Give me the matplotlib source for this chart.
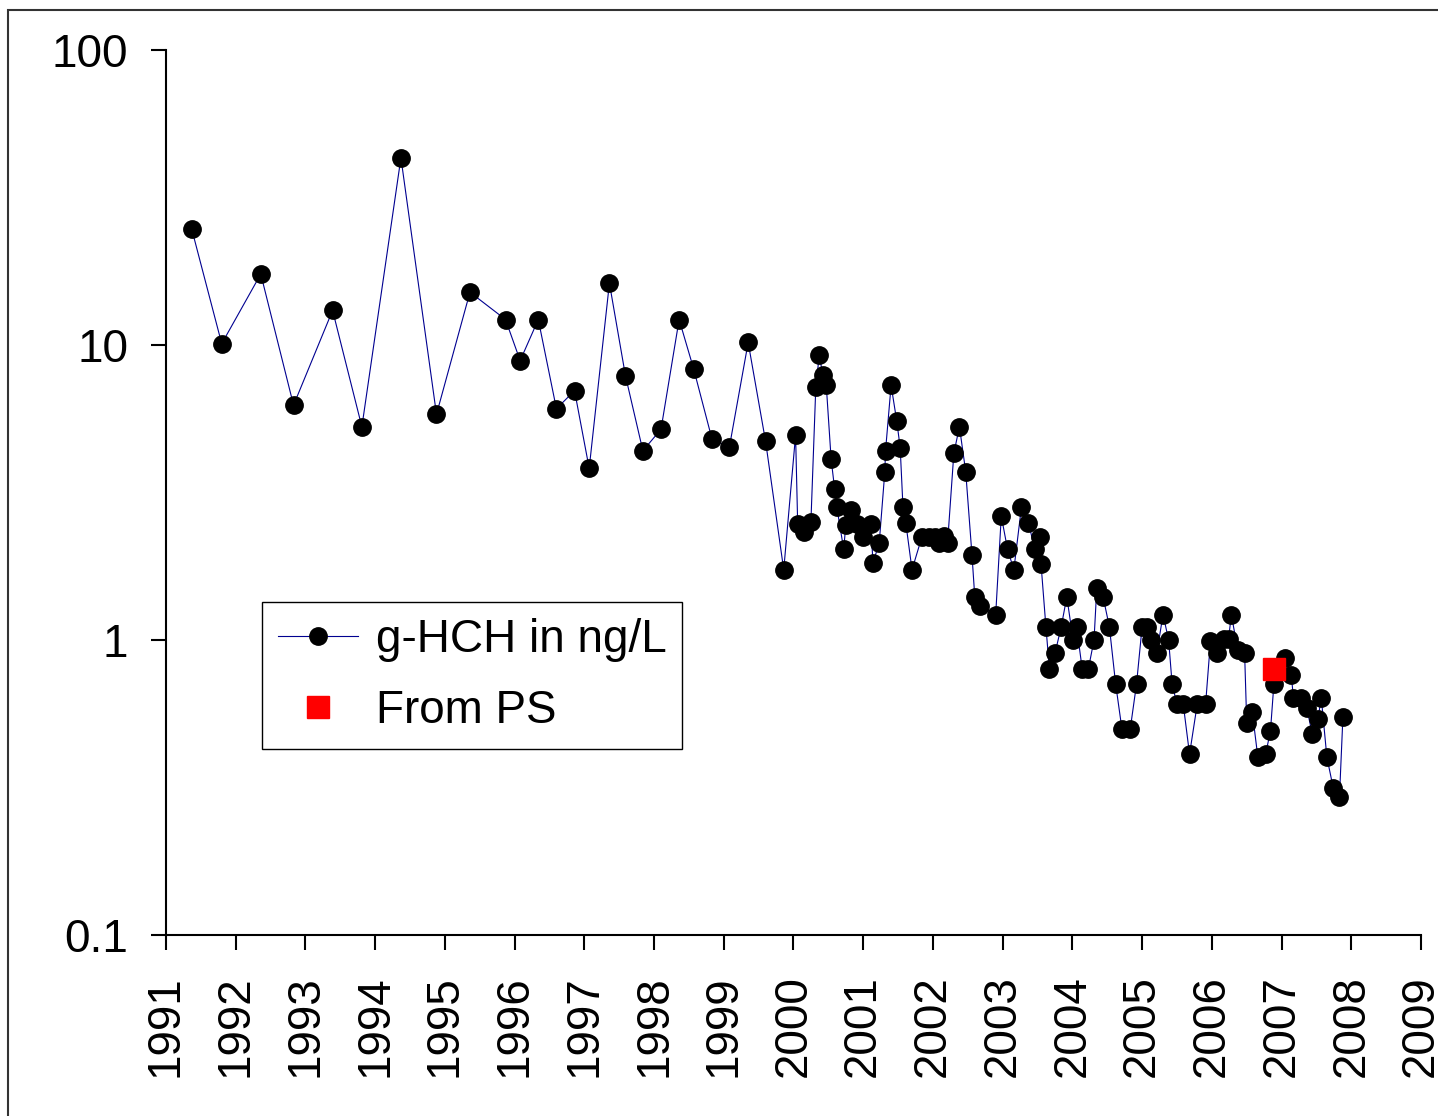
import matplotlib
matplotlib.use("Agg")
import matplotlib.pyplot as plt
from matplotlib.patches import Rectangle
from matplotlib.ticker import FixedLocator, NullLocator

plt.rcParams['font.family'] = ['Liberation Sans', 'DejaVu Sans']

# sampling dates (decimal years) and g-HCH concentrations (ng/L)
years = [
    1991.37, 1991.80, 1992.36, 1992.83, 1993.39, 1993.81, 1994.37, 1994.88,
    1995.36, 1995.87, 1996.08, 1996.34, 1996.60, 1996.86, 1997.07, 1997.36,
    1997.59, 1997.84, 1998.10, 1998.36, 1998.57, 1998.83, 1999.08, 1999.35,
    1999.60, 1999.86, 2000.03, 2000.06, 2000.15, 2000.25, 2000.32, 2000.37,
    2000.42, 2000.47, 2000.54, 2000.59, 2000.62, 2000.72, 2000.75, 2000.83,
    2000.91, 2001.00, 2001.11, 2001.14, 2001.23, 2001.31, 2001.32, 2001.40,
    2001.48, 2001.53, 2001.57, 2001.61, 2001.70, 2001.84, 2001.94, 2002.03,
    2002.09, 2002.16, 2002.21, 2002.30, 2002.38, 2002.47, 2002.56, 2002.60,
    2002.68, 2002.90, 2002.98, 2003.07, 2003.16, 2003.27, 2003.37, 2003.46,
    2003.54, 2003.55, 2003.62, 2003.67, 2003.75, 2003.84, 2003.92, 2004.01,
    2004.06, 2004.14, 2004.23, 2004.31, 2004.35, 2004.44, 2004.53, 2004.62,
    2004.71, 2004.83, 2004.92, 2005.00, 2005.07, 2005.13, 2005.21, 2005.30,
    2005.38, 2005.43, 2005.50, 2005.59, 2005.68, 2005.79, 2005.91, 2005.98,
    2006.07, 2006.17, 2006.24, 2006.28, 2006.37, 2006.47, 2006.50, 2006.58,
    2006.66, 2006.77, 2006.84, 2006.89, 2007.05, 2007.14, 2007.17, 2007.28,
    2007.36, 2007.44, 2007.52, 2007.57, 2007.65, 2007.74, 2007.83, 2007.88,
]
hch = [
    24.7, 10.1, 17.4, 6.25, 13.1, 5.28, 43.1, 5.82,
    15.1, 12.2, 8.85, 12.2, 6.08, 7.0, 3.82, 16.2,
    7.87, 4.38, 5.18, 12.2, 8.27, 4.81, 4.5, 10.2,
    4.71, 1.73, 4.95, 2.48, 2.33, 2.52, 7.19, 9.25,
    7.9, 7.3, 4.10, 3.25, 2.83, 2.03, 2.45, 2.76,
    2.48, 2.23, 2.47, 1.82, 2.14, 3.72, 4.38, 7.3,
    5.54, 4.49, 2.83, 2.5, 1.73, 2.23, 2.23, 2.23,
    2.14, 2.25, 2.14, 4.3, 5.28, 3.72, 1.94, 1.40,
    1.30, 1.22, 2.63, 2.03, 1.73, 2.83, 2.5, 2.03,
    2.24, 1.81, 1.11, 0.80, 0.90, 1.11, 1.40, 1.0,
    1.11, 0.80, 0.80, 1.0, 1.50, 1.40, 1.11, 0.71,
    0.50, 0.50, 0.71, 1.11, 1.11, 1.0, 0.90, 1.22,
    1.0, 0.71, 0.605, 0.605, 0.41, 0.605, 0.605, 0.99,
    0.90, 1.01, 1.01, 1.22, 0.925, 0.90, 0.525, 0.57,
    0.40, 0.41, 0.49, 0.71, 0.87, 0.76, 0.634, 0.634,
    0.59, 0.48, 0.54, 0.634, 0.40, 0.316, 0.293, 0.55,
]

# passive sampler estimate
ps_year = [2006.89]
ps_value = [0.80]

year_ticks = list(range(1991, 2010))
y_ticks = [0.1, 1, 10, 100]
y_labels = ["0.1", "1", "10", "100"]

fig = plt.figure(figsize=(14.38, 11.16), dpi=100)
ax = fig.add_axes([0.1154, 0.1622, 0.8728, 0.793])

ax.plot(years, hch, color="#000090", linewidth=0.8, marker="o",
        markersize=12.5, markerfacecolor="black", markeredgecolor="black",
        label="g-HCH in ng/L", zorder=3)
ax.plot(ps_year, ps_value, linestyle="none", marker="s", markersize=16.5,
        color="#ff0000", label="From PS", zorder=4)

ax.set_yscale("log")
ax.set_ylim(0.1, 100)
ax.set_xlim(1991, 2009)
ax.yaxis.set_major_locator(FixedLocator(y_ticks))
ax.yaxis.set_minor_locator(NullLocator())
ax.set_yticklabels(y_labels)
ax.set_xticks(year_ticks)
ax.set_xticklabels([str(y) for y in year_ticks], rotation=90)

for side in ["top", "right"]:
    ax.spines[side].set_visible(False)
for side in ["left", "bottom"]:
    ax.spines[side].set_linewidth(1.5)
ax.tick_params(axis="both", which="major", direction="out", length=11,
               width=1.5, labelsize=33)
ax.tick_params(axis="y", pad=16)
ax.tick_params(axis="x", pad=18)

leg = fig.legend(loc="upper left", bbox_to_anchor=(0.1822, 0.4606),
                 borderaxespad=0, fontsize=33, frameon=True, fancybox=False,
                 edgecolor="black", handlelength=1.75, handletextpad=0.38,
                 borderpad=0.35, labelspacing=0.58, framealpha=1)
leg.get_frame().set_linewidth(1.0)

# outer chart-area border (only top/left visible in the source image)
fig.patches.append(Rectangle((8 / 1438, -0.1), 1.2, 1.1 - 10 / 1116,
                             transform=fig.transFigure, fill=False,
                             edgecolor="#333333", linewidth=1.5))

fig.savefig("out.png", dpi=100)
